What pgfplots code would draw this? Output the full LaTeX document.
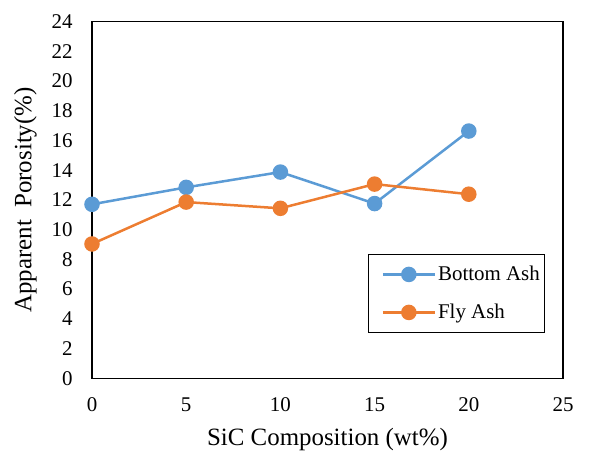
\documentclass[border=0pt]{standalone}
\usepackage{pgfplots}
\pgfplotsset{compat=1.18}
\usepackage{fontspec}
\setmainfont{Liberation Serif}
\definecolor{exblue}{HTML}{5B9BD5}
\definecolor{exorange}{HTML}{ED7D31}
\begin{document}
\begin{tikzpicture}
\path (-92bp,-67.7bp) rectangle (518bp,356.6bp+21.7bp);
\begin{axis}[
  scale only axis,
  width=471bp, height=356.6bp,
  xmin=0, xmax=25, ymin=0, ymax=24,
  xtick={0,5,10,15,20,25},
  ytick={0,2,...,24},
  major tick length=0pt,
  axis line style={line width=1.5bp, black},
  /pgf/number format/assume math mode=true,
  ticklabel style={font=\fontsize{21}{23}\selectfont},
  xticklabel style={yshift=-16bp},
  yticklabel style={xshift=-16bp},
  xlabel={SiC Composition (wt\%)},
  ylabel={Apparent\ \ Porosity(\%)},
  label style={font=\fontsize{25}{28}\selectfont},
  xlabel style={yshift=-9bp},
  ylabel style={yshift=8bp},
  legend style={at={(0.586,0.349)}, anchor=north west, draw=black, line width=1.2bp,
    font=\fontsize{21}{24}\selectfont, row sep=18bp, inner xsep=3bp, inner ysep=10bp},
  legend cell align=left,
  legend image code/.code={\path (-10bp,0bp); \draw[mark repeat=2,mark phase=2] plot coordinates {(0bp,0bp)(26bp,0bp)(52bp,0bp)};},
  clip=false,
]
\addplot[color=exblue, line width=2.5bp, mark=*, mark size=6.5bp, mark options={solid}] coordinates {
  (0,11.71) (5,12.85) (10,13.88) (15,11.76) (20,16.64)};
\addlegendentry{Bottom Ash}
\addplot[color=exorange, line width=2.5bp, mark=*, mark size=6.5bp, mark options={solid}] coordinates {
  (0,9.04) (5,11.86) (10,11.44) (15,13.07) (20,12.39)};
\addlegendentry{Fly Ash}
\end{axis}
\end{tikzpicture}
\end{document}
